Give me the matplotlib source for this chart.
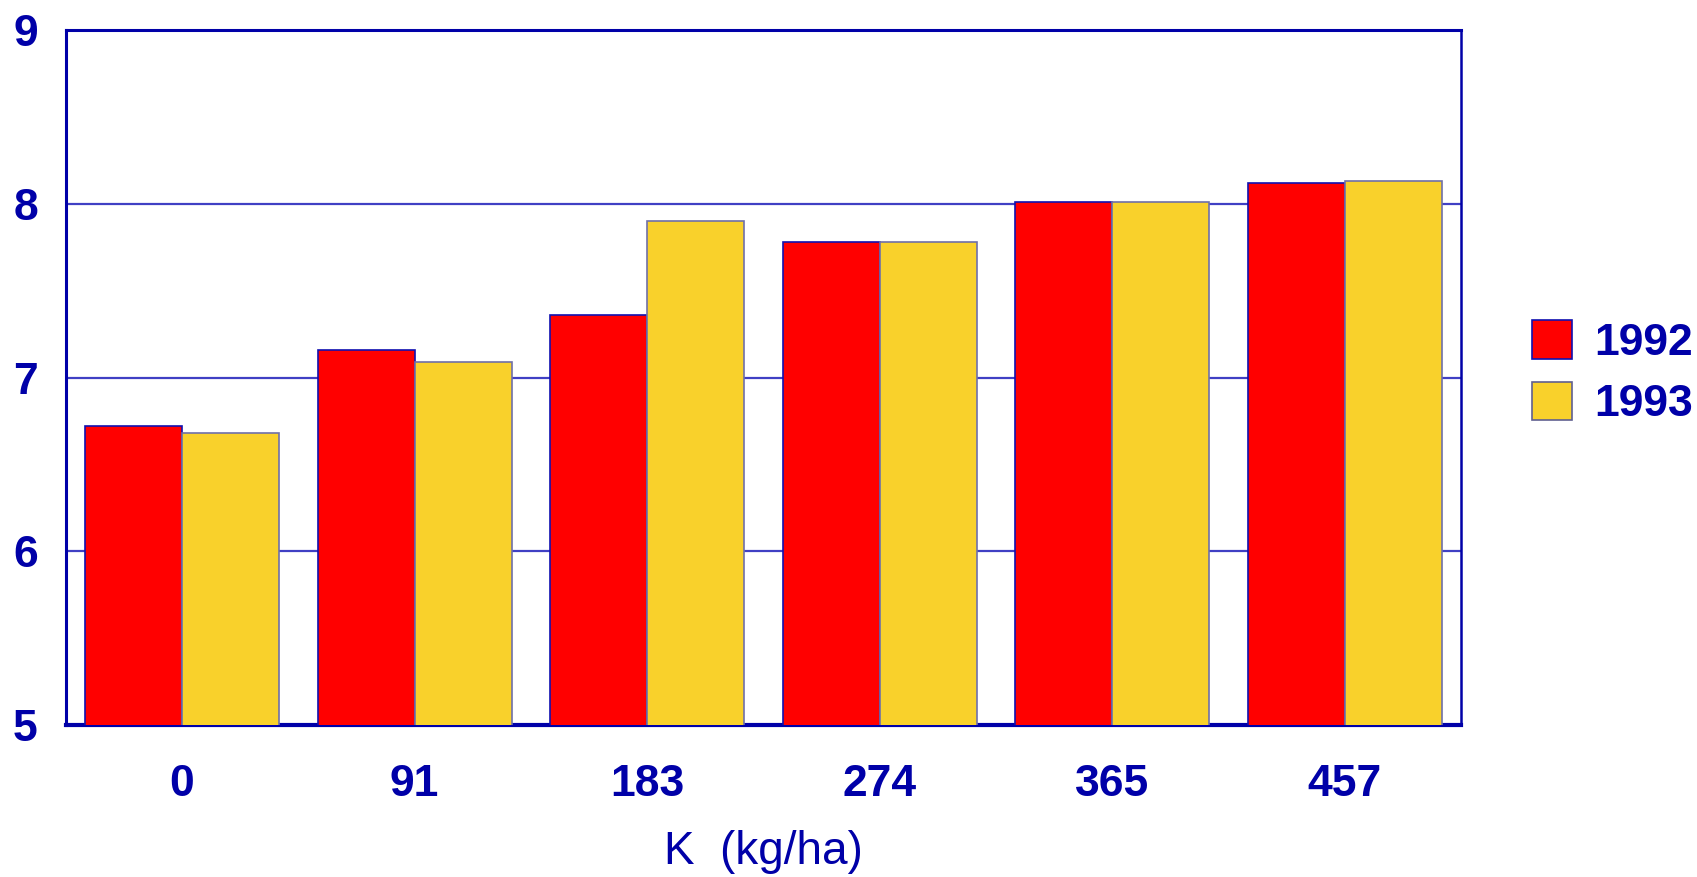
import numpy as np
import matplotlib
matplotlib.use('Agg')
import matplotlib.pyplot as plt
from matplotlib.patches import Patch

# values
k_rates = ['0', '91', '183', '274', '365', '457']
y1992 = [6.72, 7.16, 7.36, 7.78, 8.01, 8.12]
y1993 = [6.68, 7.09, 7.90, 7.78, 8.01, 8.13]
years = ['1992', '1993']

navy = '#0000A8'
red = '#FF0000'
gold = '#F9D12B'

plt.rcParams['font.family'] = ['Liberation Sans', 'DejaVu Sans']

fig = plt.figure(figsize=(16.97, 8.77), dpi=100)
ax = fig.add_axes([0.0387, 0.1733, 0.8223, 0.7925])

x = np.arange(len(k_rates))
w = 0.417
ax.bar(x - w / 2, y1992, width=w, bottom=0, color=red, edgecolor='#1010B0',
       linewidth=1.2, zorder=3)
ax.bar(x + w / 2, y1993, width=w, bottom=0, color=gold, edgecolor='#7070A8',
       linewidth=1.2, zorder=3)

ax.set_xlim(-0.5, len(k_rates) - 0.5)
ax.set_ylim(5, 9)
ax.set_yticks([5, 6, 7, 8, 9])
ax.set_xticks(x)
ax.set_xticklabels(k_rates)

ax.grid(axis='y', color='#4040C4', linewidth=1.6, zorder=1)
ax.set_axisbelow(True)

for side, lw in [('left', 2.2), ('bottom', 3.0), ('top', 2.2), ('right', 1.8)]:
    ax.spines[side].set_color(navy)
    ax.spines[side].set_linewidth(lw)

ax.tick_params(axis='both', length=0, colors=navy)
ax.tick_params(axis='y', pad=20, labelsize=32)
ax.tick_params(axis='x', pad=28, labelsize=32)
for lab in ax.get_xticklabels() + ax.get_yticklabels():
    lab.set_fontweight('bold')
    lab.set_color(navy)

ax.set_xlabel('K  (kg/ha)', fontsize=33, color=navy, labelpad=18)

handles = [Patch(facecolor=red, edgecolor='#1010B0', linewidth=1.2),
           Patch(facecolor=gold, edgecolor='#606090', linewidth=1.2)]
leg = fig.legend(handles, years, loc='center left', bbox_to_anchor=(0.9025, 0.575),
                 frameon=False, handlelength=0.92, handleheight=0.95,
                 handletextpad=0.5, labelspacing=0.4, borderpad=0, borderaxespad=0,
                 prop={'weight': 'bold', 'size': 32})
for t in leg.get_texts():
    t.set_color(navy)

fig.savefig('out.png', dpi=100)
